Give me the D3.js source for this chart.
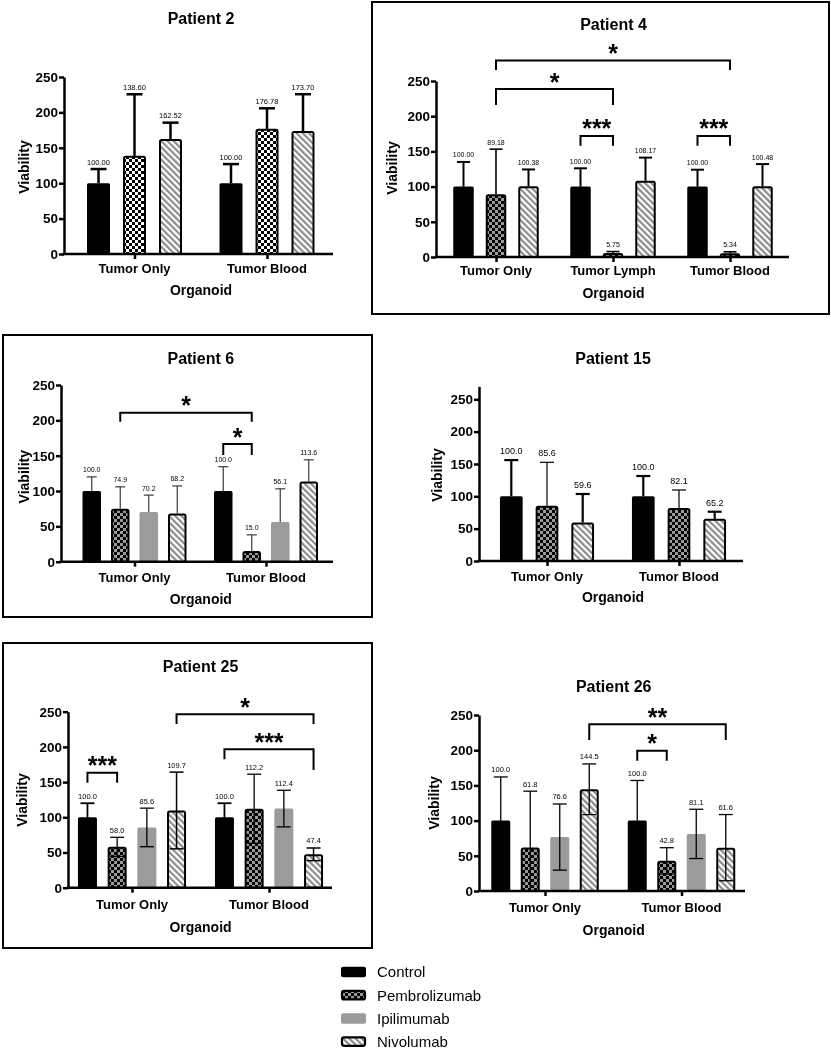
<!DOCTYPE html>
<html><head><meta charset="utf-8">
<script src="https://cdn.jsdelivr.net/npm/d3@7"></script>
<style>
body{margin:0;background:#fff}
svg{display:block;opacity:0.999;will-change:transform}
text{font-family:"Liberation Sans",Arial,Helvetica,sans-serif;fill:#000}
</style>
</head><body>
<svg id="chart" width="831" height="1050"></svg>
<script>
// ================= DATA =================
const seriesNames = ["Control","Pembrolizumab","Ipilimumab","Nivolumab"];
const yTicks = [0,50,100,150,200,250];
const xAxisTitle = "Organoid";
const yAxisTitle = "Viability";

// Patient 2
const p2Title = "Patient 2";
const p2Groups = ["Tumor Only","Tumor Blood"];
const p2Series = ["Control","Pembrolizumab","Nivolumab"];
const p2Means  = [[100.00,138.60,162.52],[100.00,176.78,173.70]];
const p2Errors = [[20,87,23],[27,29,52]];
const p2Brackets = [];

// Patient 4
const p4Title = "Patient 4";
const p4Groups = ["Tumor Only","Tumor Lymph","Tumor Blood"];
const p4Series = ["Control","Pembrolizumab","Nivolumab"];
const p4Means  = [[100.00,89.18,100.38],[100.00,5.75,108.17],[100.00,5.34,100.48]];
const p4Errors = [[35,64,24],[26,2,33],[24,2,31.5]];
// [group1, series1, group2, series2, level, dropLeft, dropRight, label]
const p4Brackets = [
  [0,1,2,1,279,265.6,265.6,"*"],
  [0,1,1,1,238.6,216,216,"*"],
  [1,0,1,1,172,158,158,"***"],
  [2,0,2,1,172,158,158,"***"]
];

// Patient 6
const p6Title = "Patient 6";
const p6Groups = ["Tumor Only","Tumor Blood"];
const p6Series = ["Control","Pembrolizumab","Ipilimumab","Nivolumab"];
const p6Means  = [[100.0,74.9,70.2,68.2],[100.0,15.0,56.1,113.6]];
const p6Errors = [[20,31,24,39],[34.4,23,47,30.5]];
const p6Brackets = [
  [0,1,1,1,210.8,198,198,"*"],
  [1,0,1,1,166.5,151,151,"*"]
];

// Patient 15
const p15Title = "Patient 15";
const p15Groups = ["Tumor Only","Tumor Blood"];
const p15Series = ["Control","Pembrolizumab","Nivolumab"];
const p15Means  = [[100.0,85.6,59.6],[100.0,82.1,65.2]];
const p15Errors = [[56,67,44],[31.4,27.7,11]];
const p15Brackets = [];

// Patient 25
const p25Title = "Patient 25";
const p25Groups = ["Tumor Only","Tumor Blood"];
const p25Series = ["Control","Pembrolizumab","Ipilimumab","Nivolumab"];
const p25Means  = [[100.0,58.0,85.6,109.7],[100.0,112.2,112.4,47.4]];
const p25Errors = [[20,13.6,27.4,54.5],[20,49,26,9]];
const p25Brackets = [
  [0,0,0,1,163.4,149,149,"***"],
  [0,3,1,3,246.3,232.5,232.5,"*"],
  [1,0,1,3,196.6,182.4,167.2,"***"]
];

// Patient 26
const p26Title = "Patient 26";
const p26Groups = ["Tumor Only","Tumor Blood"];
const p26Series = ["Control","Pembrolizumab","Ipilimumab","Nivolumab"];
const p26Means  = [[100.0,61.8,76.6,144.5],[100.0,42.8,81.1,61.6]];
const p26Errors = [[62,80,47,36],[57,18.7,35,47]];
const p26Brackets = [
  [0,3,1,3,236.8,214.5,214.5,"**"],
  [1,0,1,1,199.3,185,185,"*"]
];

// ================= LAYOUT / STYLE =================
const layouts = [
  {title:p2Title, groups:p2Groups, series:p2Series, means:p2Means, errors:p2Errors, brackets:p2Brackets,
   yAxisX:64, xEnd:333, y0:254, y250:77, yMax:250, centers:[134.5,267], step:36, barW:23,
   titleX:201, titleY:24.3, xLabY:272.6, orgY:295, vX:28.7, vY:167, fmt:".2f", valFs:7.5, labOff:4.5,
   capW:16, errW:[2.5,2.5,2.5], errColor:"#000", twoSided:false, checker:"chkBW", box:null},
  {title:p4Title, groups:p4Groups, series:p4Series, means:p4Means, errors:p4Errors, brackets:p4Brackets,
   yAxisX:436, xEnd:789, y0:257, y250:81, yMax:250, centers:[496,730], step:32.5, barW:20.5,
   titleX:613.5, titleY:30, xLabY:275, orgY:298.3, vX:397, vY:168, fmt:".2f", valFs:7, labOff:4.5,
   capW:13, errW:[2,1.6,2], errColor:"#000", twoSided:false, checker:"chkG", box:[372,2,829,314]},
  {title:p6Title, groups:p6Groups, series:p6Series, means:p6Means, errors:p6Errors, brackets:p6Brackets,
   yAxisX:61, xEnd:333, y0:561.7, y250:385, yMax:250, centers:[134.5,266], step:28.5, barW:18.5,
   titleX:200.8, titleY:364.3, xLabY:582, orgY:603.5, vX:28.7, vY:476.7, fmt:".1f", valFs:7, labOff:4.5,
   capW:10, errW:[1.2,1.2,1.2,1.2], errColor:"#3a3a3a", twoSided:false, checker:"chkG", box:[3,335,372,617]},
  {title:p15Title, groups:p15Groups, series:p15Series, means:p15Means, errors:p15Errors, brackets:p15Brackets,
   yAxisX:479, xEnd:743, y0:561, y250:399.3, yMax:270, centers:[547,679], step:35.7, barW:22.7,
   titleX:613, titleY:364.3, xLabY:581, orgY:601.7, vX:442, vY:475, fmt:".1f", valFs:9, labOff:6,
   capW:14, errW:[2.2,1.2,2.2], errColor:"#000", twoSided:false, checker:"chkG", box:null},
  {title:p25Title, groups:p25Groups, series:p25Series, means:p25Means, errors:p25Errors, brackets:p25Brackets,
   yAxisX:68, xEnd:332, y0:887.7, y250:711.7, yMax:250, centers:[132,269], step:29.7, barW:19,
   titleX:200.5, titleY:671.7, xLabY:909.3, orgY:931.7, vX:27, vY:800, fmt:".1f", valFs:7.5, labOff:4.5,
   capW:14, errW:[1.8,1.3,1.3,1.5], errColor:"#000", twoSided:true, checker:"chkG", box:[3,643,372,948]},
  {title:p26Title, groups:p26Groups, series:p26Series, means:p26Means, errors:p26Errors, brackets:p26Brackets,
   yAxisX:479, xEnd:745, y0:891, y250:715, yMax:250, centers:[545,681.5], step:29.5, barW:19,
   titleX:613.7, titleY:692, xLabY:912, orgY:935, vX:439, vY:803, fmt:".1f", valFs:7.5, labOff:4.5,
   capW:14, errW:[1.3,1.3,1.3,1.3], errColor:"#000", twoSided:true, checker:"chkG", box:null}
];

const svg = d3.select("#chart");
const defs = svg.append("defs");

function checker(id, light){
  const p = defs.append("pattern").attr("id",id).attr("patternUnits","userSpaceOnUse")
    .attr("width",6).attr("height",6);
  p.append("rect").attr("width",6).attr("height",6).attr("fill",light);
  p.append("rect").attr("width",3).attr("height",3).attr("fill","#000");
  p.append("rect").attr("x",3).attr("y",3).attr("width",3).attr("height",3).attr("fill","#000");
}
checker("chkBW","#fff");
checker("chkG","#9a9a9a");
{
  const p = defs.append("pattern").attr("id","stripes").attr("patternUnits","userSpaceOnUse")
    .attr("width",4.4).attr("height",4.4).attr("patternTransform","rotate(-45)");
  p.append("rect").attr("width",4.4).attr("height",4.4).attr("fill","#fff");
  p.append("rect").attr("width",2.2).attr("height",4.4).attr("fill","#8c8c8c");
}

function fillFor(name, L){
  if(name==="Control") return "#000";
  if(name==="Pembrolizumab") return `url(#${L.checker})`;
  if(name==="Ipilimumab") return "#9b9b9b";
  return "url(#stripes)";
}

function drawPanel(L){
  const g = svg.append("g");
  if(L.box){
    g.append("rect").attr("x",L.box[0]).attr("y",L.box[1])
      .attr("width",L.box[2]-L.box[0]).attr("height",L.box[3]-L.box[1])
      .attr("fill","none").attr("stroke","#000").attr("stroke-width",2);
  }
  const yTop = L.y0 - (L.y0-L.y250)*L.yMax/250;
  const y = d3.scaleLinear().domain([0,L.yMax]).range([L.y0,yTop]);
  const x = d3.scalePoint().domain(L.groups).range(L.centers);
  const n = L.series.length;
  const pad = 1 - L.barW/L.step;
  const xs = d3.scaleBand().domain(L.series).range([-n*L.step/2, n*L.step/2])
    .paddingInner(pad).paddingOuter(pad/2);
  const bw = xs.bandwidth();

  // bars
  const recs = [];
  L.groups.forEach((grp,gi)=>L.series.forEach((s,si)=>{
    recs.push({grp, s, si, m:L.means[gi][si], e:L.errors[gi][si], cx:x(grp)+xs(s)+bw/2, x0:x(grp)+xs(s)});
  }));
  recs.forEach(r=>{
    const outlined = (r.s==="Pembrolizumab"||r.s==="Nivolumab");
    const rect = g.append("rect")
      .attr("x", outlined ? r.x0+1 : r.x0)
      .attr("width", outlined ? bw-2 : bw)
      .attr("y", outlined ? y(r.m)+1 : y(r.m))
      .attr("height", Math.max(0, y(0)-y(r.m) - (outlined?1:0)))
      .attr("fill", fillFor(r.s,L))
      .attr("rx", 1.5);
    if(outlined) rect.attr("stroke","#000").attr("stroke-width",2);
  });

  // error bars
  recs.forEach(r=>{
    const top = y(r.m + r.e);
    const bot = L.twoSided ? y(Math.max(0,r.m - r.e)) : y(r.m);
    const w = L.errW[r.si];
    const eg = g.append("g").attr("stroke",L.errColor).attr("stroke-width",w).attr("fill","none");
    eg.append("line").attr("x1",r.cx).attr("x2",r.cx).attr("y1",top).attr("y2",bot);
    eg.append("line").attr("x1",r.cx-L.capW/2).attr("x2",r.cx+L.capW/2).attr("y1",top).attr("y2",top);
    if(L.twoSided){
      eg.append("line").attr("x1",r.cx-L.capW/2).attr("x2",r.cx+L.capW/2).attr("y1",bot).attr("y2",bot);
    }
    g.append("text").attr("x",r.cx).attr("y",top-L.labOff)
      .attr("text-anchor","middle").attr("font-size",L.valFs)
      .text(d3.format(L.fmt)(r.m));
  });

  // y axis
  const ya = g.append("g").attr("transform",`translate(${L.yAxisX},0)`)
    .call(d3.axisLeft(y).tickValues(yTicks).tickSize(5).tickSizeOuter(0).tickPadding(1));
  ya.select(".domain").attr("stroke-width",2.5).attr("stroke","#000");
  ya.selectAll(".tick line").attr("stroke-width",2.5).attr("stroke","#000");
  ya.selectAll(".tick text").attr("font-size",13.5).attr("font-weight","bold")
    .attr("font-family",'"Liberation Sans",Arial,sans-serif').attr("fill","#000");

  // x axis
  const xa = g.append("g").attr("transform",`translate(0,${L.y0})`)
    .call(d3.axisBottom(x).tickSize(5).tickSizeOuter(0).tickFormat(""));
  xa.select(".domain").remove();
  xa.selectAll(".tick line").attr("stroke-width",2.5).attr("stroke","#000");
  g.append("line").attr("x1",L.yAxisX-1.25).attr("x2",L.xEnd).attr("y1",L.y0).attr("y2",L.y0)
    .attr("stroke","#000").attr("stroke-width",2.5);
  L.groups.forEach(grp=>{
    g.append("text").attr("x",x(grp)).attr("y",L.xLabY).attr("text-anchor","middle")
      .attr("font-size",13).attr("font-weight","bold").text(grp);
  });

  // brackets
  L.brackets.forEach(b=>{
    const xl = x(L.groups[b[0]]) + xs(L.series[b[1]]) + bw/2;
    const xr = x(L.groups[b[2]]) + xs(L.series[b[3]]) + bw/2;
    const path = d3.path();
    path.moveTo(xl, y(b[5])); path.lineTo(xl, y(b[4])); path.lineTo(xr, y(b[4])); path.lineTo(xr, y(b[6]));
    g.append("path").attr("d",path.toString()).attr("fill","none").attr("stroke","#000")
      .attr("stroke-width",2).attr("stroke-linejoin","miter");
    g.append("text").attr("x",(xl+xr)/2).attr("y",y(b[4])+1.5).attr("text-anchor","middle")
      .attr("font-size",25).attr("font-weight","bold").text(b[7]);
  });

  // titles
  g.append("text").attr("x",L.titleX).attr("y",L.titleY).attr("text-anchor","middle")
    .attr("font-size",16).attr("font-weight","bold").text(L.title);
  g.append("text").attr("x",L.titleX).attr("y",L.orgY).attr("text-anchor","middle")
    .attr("font-size",14).attr("font-weight","bold").text(xAxisTitle);
  g.append("text").attr("transform",`translate(${L.vX},${L.vY}) rotate(-90)`).attr("text-anchor","middle")
    .attr("font-size",14).attr("font-weight","bold").text(yAxisTitle);
}

layouts.forEach(drawPanel);

// legend
const ly = d3.scalePoint().domain(seriesNames).range([972,1041.5]);
const lg = svg.append("g");
seriesNames.forEach(s=>{
  const outlined = (s==="Pembrolizumab"||s==="Nivolumab");
  const r = lg.append("rect").attr("x", outlined?342:341).attr("y", ly(s)-5.2 + (outlined?1:0))
    .attr("width", outlined?23:25).attr("height", outlined?8.5:10.5).attr("rx",2)
    .attr("fill", s==="Control" ? "#000" : s==="Pembrolizumab" ? "url(#chkG)" : s==="Ipilimumab" ? "#9b9b9b" : "url(#stripes)");
  if(outlined) r.attr("stroke","#000").attr("stroke-width",2.2);
  lg.append("text").attr("x",377).attr("y",ly(s)).attr("dy","0.36em").attr("font-size",15).text(s);
});
</script>
</body></html>
